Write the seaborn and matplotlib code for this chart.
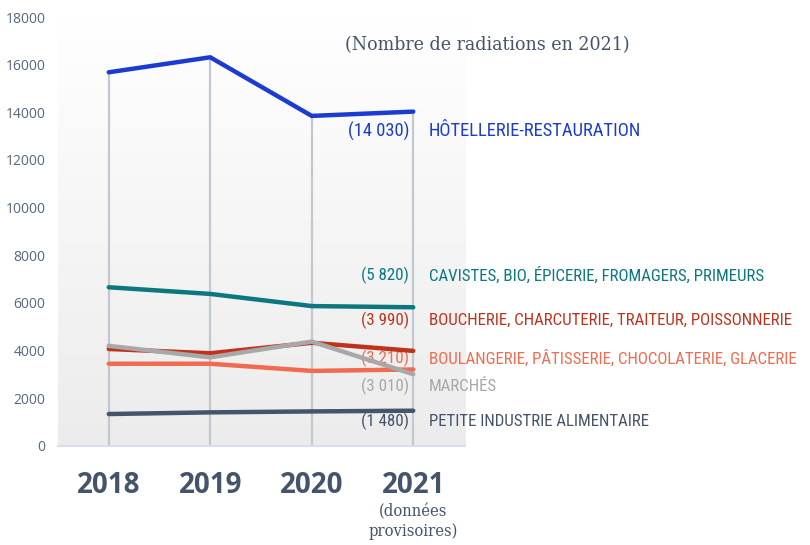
import numpy as np
import pandas as pd
import seaborn as sns
import matplotlib.pyplot as plt
from matplotlib import font_manager
from matplotlib.colors import LinearSegmentedColormap

# --- data ---
years = [2018, 2019, 2020, 2021]
year_labels = ["2018", "2019", "2020", "2021"]
categories = [
    "HÔTELLERIE-RESTAURATION",
    "CAVISTES, BIO, ÉPICERIE, FROMAGERS, PRIMEURS",
    "BOUCHERIE, CHARCUTERIE, TRAITEUR, POISSONNERIE",
    "BOULANGERIE, PÂTISSERIE, CHOCOLATERIE, GLACERIE",
    "MARCHÉS",
    "PETITE INDUSTRIE ALIMENTAIRE",
]
hotellerie = [15680, 16310, 13850, 14030]
cavistes = [6660, 6380, 5870, 5820]
boucherie = [4070, 3890, 4330, 3990]
boulangerie = [3450, 3450, 3150, 3210]
marches = [4200, 3720, 4380, 3010]
petite_industrie = [1340, 1410, 1450, 1480]
value_labels = ["(14 030)", "(5 820)", "(3 990)", "(3 210)", "(3 010)", "(1 480)"]
title = "(Nombre de radiations en 2021)"
note_2021 = "(données\nprovisoires)"

series = [hotellerie, cavistes, boucherie, boulangerie, marches, petite_industrie]
df = pd.DataFrame({
    "annee": years * len(categories),
    "radiations": [v for s in series for v in s],
    "secteur": [c for c in categories for _ in years],
})

# --- style ---
colors = ["#1c3bd2", "#0b7880", "#c0321c", "#f26a4f", "#a8a8a8", "#44546a"]
palette = dict(zip(categories, colors))
text_color = "#44546a"


def has_font(family, stretch=None):
    try:
        path = font_manager.findfont(
            font_manager.FontProperties(family=family, stretch=stretch or "normal"),
            fallback_to_default=False)
    except ValueError:
        return False
    if stretch:
        return "ondensed" in path or "arrow" in path
    return True


# narrow sans for labels, condensed serif for the title
narrow = None
for fam in ["Liberation Sans Narrow", "Roboto Condensed", "Open Sans Condensed"]:
    if has_font(fam):
        narrow = dict(family=fam)
        break
if narrow is None:
    narrow = dict(family="DejaVu Sans", stretch="condensed") if has_font("DejaVu Sans", "condensed") \
        else dict(family="Roboto")
serif = dict(family="DejaVu Serif", stretch="condensed") if has_font("DejaVu Serif", "condensed") \
    else dict(family="Liberation Serif")

sns.set_theme(style="white")
plt.rcParams["font.family"] = ["Open Sans", "DejaVu Sans"]

fig = plt.figure(figsize=(8.1, 5.45), dpi=100)
ax = fig.add_axes([0.0716, 0.1817, 0.5025, 0.7871])

# soft vertical gradient behind the plot
grad = LinearSegmentedColormap.from_list("bg", ["#ffffff", "#ececec"])
ax.imshow(np.linspace(0, 1, 256).reshape(-1, 1), cmap=grad, aspect="auto",
          extent=[0, 1, 0, 1], transform=ax.transAxes, zorder=0)

# drop lines from the top series down to the axis
tops = np.max(np.array(series), axis=0)
ax.vlines(years, 0, tops, color="#c3c7ce", lw=1.6, zorder=1)

sns.lineplot(data=df, x="annee", y="radiations", hue="secteur", hue_order=categories,
             palette=palette, linewidth=3.2, legend=False, ax=ax, zorder=3,
             solid_capstyle="round")

ax.set_xlim(2017.5, 2021.51)
ax.set_ylim(0, 18000)
ax.set_yticks(np.arange(0, 18001, 2000))
ax.set_yticklabels([str(v) for v in range(0, 18001, 2000)], fontsize=10, color="#56677c")
ax.set_xticks(years)
ax.set_xticklabels(year_labels, fontsize=20, fontweight="bold", color=text_color)
ax.tick_params(axis="y", length=0, pad=9)
ax.tick_params(axis="x", length=0, pad=18)
ax.set_xlabel("")
ax.set_ylabel("")
for side in ["top", "right", "left"]:
    ax.spines[side].set_visible(False)
ax.spines["bottom"].set_color("#d6def0")
ax.spines["bottom"].set_linewidth(1.5)

# labels at the end of each line (offsets in points from the 2021 value)
y_offsets = [-14, 23, 22, 8, -9, -8]
name_scale = [1.09, 1, 1, 1, 1, 1]
name_texts, value_texts = [], []
for cat, s, lab, col, dy in zip(categories, series, value_labels, colors, y_offsets):
    value_texts.append(ax.annotate(
        lab, (years[-1], s[-1]), xytext=(-3, dy), textcoords="offset points",
        ha="right", va="center", color=col, fontsize=12, annotation_clip=False,
        zorder=2, **narrow))
    name_texts.append(ax.annotate(
        cat, (years[-1], s[-1]), xytext=(11, dy), textcoords="offset points",
        ha="left", va="center", color=col, fontsize=12, annotation_clip=False,
        zorder=2, **narrow))

title_text = fig.text(487 / 810, 1 - 45 / 545, title, ha="center", va="center",
                      fontsize=17, color=text_color, **serif)
note_text = ax.annotate(note_2021, (years[-1], 0), xytext=(0, -41), textcoords="offset points",
                        ha="center", va="top", fontsize=13, color=text_color,
                        linespacing=1.2, annotation_clip=False, **serif)

# fit text widths to the reference layout
fig.canvas.draw()
renderer = fig.canvas.get_renderer()


def width_px(t):
    return t.get_window_extent(renderer).width


base = 12 * 370 / width_px(name_texts[3])
for t, k in zip(name_texts, name_scale):
    t.set_fontsize(base * k)
for t, k in zip(value_texts, name_scale):
    t.set_fontsize(base * k)
title_text.set_fontsize(17 * 283 / width_px(title_text))
note_text.set_fontsize(13 * 89 / max(width_px(note_text), 1))

fig.savefig("out.png", dpi=100)
